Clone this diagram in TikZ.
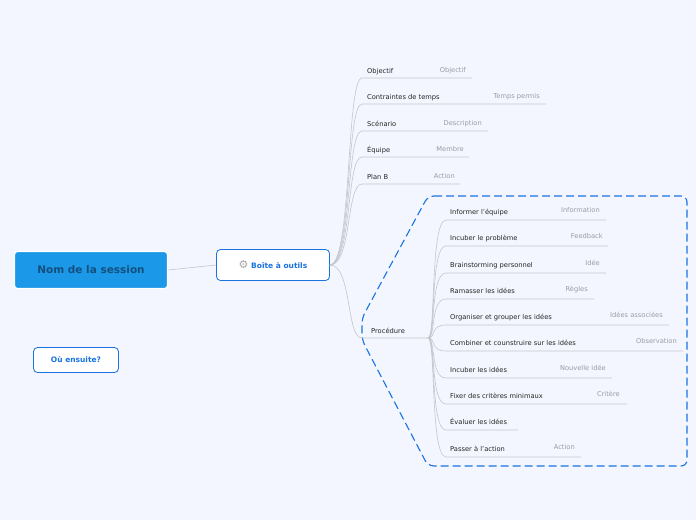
\documentclass[tikz,border=0pt]{standalone}
\usepackage{fontspec}
\setmainfont{DejaVu Sans}
\usepackage{xcolor}
\usetikzlibrary{positioning}
\definecolor{bgcol}{HTML}{F3F6FE}
\definecolor{rootblue}{HTML}{1B98E8}
\definecolor{rootink}{HTML}{14507E}
\definecolor{linkblue}{HTML}{1A73E0}
\definecolor{branch}{HTML}{C4C6CC}
\definecolor{valgray}{HTML}{9A9CA2}

\begin{document}
\begin{tikzpicture}[x=1pt, y=-1pt]
    % Define styles
    \tikzstyle{root} = [rectangle, draw=white, line width=1.2pt, fill=rootblue, rounded corners=3pt, minimum width=153pt, minimum height=37pt, text=rootink, font=\fontsize{10.5}{12}\selectfont\bfseries]
    \tikzstyle{topic} = [rectangle, draw=linkblue, line width=0.8pt, fill=white, rounded corners=4pt, text=linkblue, font=\fontsize{7.5}{9}\selectfont\bfseries]
    \tikzstyle{leaf} = [anchor=base west, inner sep=0pt, text=black!85, font=\fontsize{6.7}{8}\selectfont]
    \tikzstyle{value} = [anchor=base east, inner sep=0pt, text=valgray, font=\fontsize{6.7}{8}\selectfont]
    \tikzstyle{link} = [draw=branch, line width=0.6pt]

    \fill[bgcol] (0,0) rectangle (696,520);
    \useasboundingbox (0,0) rectangle (696,520);

    % Nodes
    \node [root] (session) at (91,270) {Nom de la session};
    \node [topic, minimum width=113pt, minimum height=31pt] (tools) at (273,265) {{\color{black!35}\fontsize{11}{11}\selectfont ⚙}\ Boîte à outils};
    \node [topic, minimum width=85pt, minimum height=25pt] (next) at (76,360) {Où ensuite?};

    % Group frame
    \draw [linkblue, line width=1.1pt, dash pattern=on 8pt off 4pt, rounded corners=6pt]
        (428,196) -- (687,196) -- (687,466) -- (428,466) -- (362,340) -- (362,318) -- cycle;

    \draw [link] (session.east) -- (tools.west);

    % Toolbox branches
    \foreach \name/\txt/\val/\y/\xe/\xv in {obj/Objectif/Objectif/78/472/466,
        time/Contraintes de temps/Temps permis/104/546/540,
        scen/Scénario/Description/131/488/482,
        team/Équipe/Membre/157/469/464,
        planb/Plan B/Action/184/460/455} {
        \coordinate (\name-end) at (\xe,\y);
        \node [leaf] (\name) at (367,\y-5) {\txt};
        \node [value] (\name-val) at (\xv,\y-6) {\val};
        \draw [link] (tools.east) .. controls (352,265) and (346,\y) .. (362,\y) -- (\name-end);
    }

    % Procedure
    \coordinate (proc-end) at (428,338);
    \node [leaf] (proc) at (371,333) {Procédure};
    \draw [link] (tools.east) .. controls (352,265) and (346,338) .. (362,338) -- (proc-end);

    \foreach \name/\txt/\val/\y/\xe/\xv in {s1/Informer l'équipe/Information/220/606/600,
        s2/Incuber le problème/Feedback/246/608/603,
        s3/Brainstorming personnel/Idée/273/606/600,
        s4/Ramasser les idées/Règles/299/594/588,
        s5/Organiser et grouper les idées/Idées associées/325/669/663,
        s6/Combiner et counstruire sur les idées/Observation/351/683/677,
        s7/Incuber les idées/Nouvelle idée/378/612/606,
        s8/Fixer des critères minimaux/Critère/404/627/620,
        s10/Passer à l'action/Action/457/581/575} {
        \coordinate (\name-end) at (\xe,\y);
        \node [leaf] (\name) at (450,\y-6) {\txt};
        \node [value] (\name-val) at (\xv,\y-8) {\val};
        \draw [link] (proc-end) .. controls (436,338) and (430,\y) .. (446,\y) -- (\name-end);
    }
    \coordinate (s9-end) at (518,430);
    \node [leaf] (s9) at (450,424) {Évaluer les idées};
    \draw [link] (proc-end) .. controls (436,338) and (430,430) .. (446,430) -- (s9-end);
\end{tikzpicture}
\end{document}
